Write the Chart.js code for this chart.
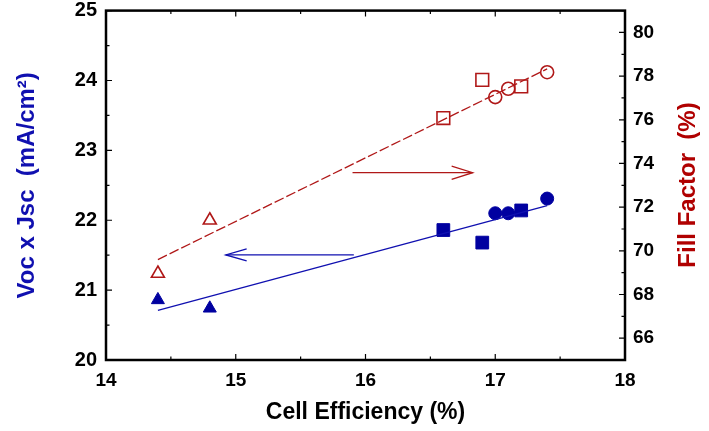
<!DOCTYPE html>
<html>
<head>
<meta charset="utf-8">
<script src="https://cdn.jsdelivr.net/npm/chart.js@4/dist/chart.umd.min.js"></script>
<style>
html, body { margin: 0; padding: 0; background: #fff; }
#wrap { width: 709px; height: 431px; }
</style>
</head>
<body>
<div id="wrap"><canvas id="chart"></canvas></div>
<script>
// cell efficiency (%) for each marker group
const triEff = [14.4, 14.8];
const sqEff = [16.6, 16.9, 17.2];
const cirEff = [17.0, 17.1, 17.4];
// Voc x Jsc (mA/cm2), left axis
const triVJ = [20.86, 20.74];
const sqVJ = [21.86, 21.68, 22.14];
const cirVJ = [22.10, 22.10, 22.31];
// fill factor (%), right axis
const triFF = [68.96, 71.4];
const sqFF = [76.08, 77.83, 77.53];
const cirFF = [77.04, 77.42, 78.18];
// fitted lines
const fitEff = [14.4, 17.4];
const fitVJ = [20.71, 22.21];
const fitFF = [69.6, 78.33];
// arrows (efficiency, Voc x Jsc units)
const ffArrowEff = [15.9, 16.826];
const ffArrowVJ = [22.68, 22.68];
const ffHeadEff = [16.664, 16.826, 16.664];
const ffHeadVJ = [22.776, 22.68, 22.584];
const vjArrowEff = [15.91, 14.923];
const vjArrowVJ = [21.504, 21.504];
const vjHeadEff = [15.084, 14.923, 15.084];
const vjHeadVJ = [21.59, 21.504, 21.418];

const BLUE = '#0000a0';
const RED = '#b01818';
const FONT = '"Liberation Sans", Arial, sans-serif';

function pts(xs, ys) {
    return xs.map((x, i) => ({ x: x, y: ys[i] }));
}

function marker(data, axis, shape, radius, color, filled) {
    return {
        type: 'scatter',
        data: data,
        yAxisID: axis,
        pointStyle: shape,
        pointRadius: radius,
        pointHoverRadius: radius,
        pointBorderWidth: filled ? 1 : 1.6,
        borderColor: color,
        backgroundColor: filled ? color : 'rgba(0,0,0,0)',
        showLine: false
    };
}

function line(data, axis, color, width, dash) {
    return {
        type: 'line',
        data: data,
        yAxisID: axis,
        borderColor: color,
        borderWidth: width,
        borderDash: dash || [],
        pointRadius: 0,
        fill: false,
        tension: 0
    };
}

const frame = {
    id: 'frame',
    afterDatasetsDraw(chart) {
        const ctx = chart.ctx;
        const a = chart.chartArea;
        const x = chart.scales.x, y = chart.scales.y, y2 = chart.scales.y2;
        ctx.save();
        ctx.strokeStyle = '#000';
        ctx.lineWidth = 1.2;
        ctx.beginPath();
        x.ticks.forEach(t => {
            const px = x.getPixelForValue(t.value);
            const len = Number.isInteger(t.value) ? 6 : 3.5;
            ctx.moveTo(px, a.bottom); ctx.lineTo(px, a.bottom - len);
            ctx.moveTo(px, a.top); ctx.lineTo(px, a.top + len);
        });
        y.ticks.forEach(t => {
            const py = y.getPixelForValue(t.value);
            const len = Number.isInteger(t.value) ? 6 : 3.5;
            ctx.moveTo(a.left, py); ctx.lineTo(a.left + len, py);
        });
        y2.ticks.forEach(t => {
            const py = y2.getPixelForValue(t.value);
            const len = t.value % 2 === 0 ? 6 : 3.5;
            ctx.moveTo(a.right, py); ctx.lineTo(a.right - len, py);
        });
        ctx.stroke();
        ctx.lineWidth = 2.5;
        ctx.strokeRect(a.left, a.top, a.right - a.left, a.bottom - a.top);

        // right axis title, reading upward
        ctx.translate(688, 185);
        ctx.rotate(-Math.PI / 2);
        ctx.fillStyle = '#b00000';
        ctx.font = 'bold 24px ' + FONT;
        ctx.textAlign = 'center';
        ctx.textBaseline = 'middle';
        ctx.fillText('Fill Factor  (%)', 0, 0);
        ctx.restore();
    }
};

function noPad(scale) {
    scale.paddingTop = 0;
    scale.paddingBottom = 0;
}

const chartCtx = document.getElementById('chart').getContext('2d');

const chart = new Chart(chartCtx, {
    data: {
        datasets: [
            line(pts(fitEff, fitFF), 'y2', RED, 1.3, [10, 3]),
            line(pts(fitEff, fitVJ), 'y', '#1010b0', 1.3),
            line(pts(ffArrowEff, ffArrowVJ), 'y', RED, 1.3),
            line(pts(ffHeadEff, ffHeadVJ), 'y', RED, 1.3),
            line(pts(vjArrowEff, vjArrowVJ), 'y', '#1010b0', 1.3),
            line(pts(vjHeadEff, vjHeadVJ), 'y', '#1010b0', 1.3),
            marker(pts(triEff, triFF), 'y2', 'triangle', 7.5, RED, false),
            marker(pts(sqEff, sqFF), 'y2', 'rect', 9, RED, false),
            marker(pts(cirEff, cirFF), 'y2', 'circle', 6.5, RED, false),
            marker(pts(triEff, triVJ), 'y', 'triangle', 7.5, BLUE, true),
            marker(pts(sqEff, sqVJ), 'y', 'rect', 9, BLUE, true),
            marker(pts(cirEff, cirVJ), 'y', 'circle', 6.5, BLUE, true)
        ]
    },
    plugins: [frame],
    options: {
        responsive: true,
        maintainAspectRatio: false,
        animation: false,
        layout: { padding: { top: 10, left: 0, right: 0, bottom: 0 } },
        plugins: {
            legend: { display: false },
            tooltip: { enabled: false }
        },
        scales: {
            x: {
                type: 'linear',
                position: 'bottom',
                min: 14,
                max: 18,
                afterFit: s => { s.height = 71; },
                grid: { display: false, drawTicks: false },
                border: { display: false },
                ticks: {
                    stepSize: 0.5,
                    autoSkip: false,
                    maxRotation: 0,
                    padding: 9,
                    color: '#000',
                    font: { family: FONT, size: 19, weight: 'bold' },
                    callback: v => Number.isInteger(v) ? String(v) : ''
                },
                title: {
                    display: true,
                    text: 'Cell Efficiency (%)',
                    color: '#000',
                    padding: { top: 0, bottom: 5 },
                    font: { family: FONT, size: 23, weight: 'bold' }
                }
            },
            y: {
                type: 'linear',
                position: 'left',
                min: 20,
                max: 25,
                afterFit: s => { s.width = 106; noPad(s); },
                grid: { display: false, drawTicks: false },
                border: { display: false },
                ticks: {
                    stepSize: 0.5,
                    autoSkip: false,
                    padding: 9,
                    color: '#000',
                    font: { family: FONT, size: 20, weight: 'bold' },
                    callback: v => Number.isInteger(v) ? String(v) : ''
                },
                title: {
                    display: true,
                    text: 'Voc x Jsc  (mA/cm²)',
                    color: '#1010b0',
                    padding: { top: 13, bottom: 0 },
                    font: { family: FONT, size: 24, weight: 'bold' }
                }
            },
            y2: {
                type: 'linear',
                position: 'right',
                min: 65,
                max: 81,
                afterFit: s => { s.width = 84; noPad(s); },
                grid: { display: false, drawTicks: false },
                border: { display: false },
                ticks: {
                    stepSize: 1,
                    autoSkip: false,
                    padding: 8,
                    color: '#000',
                    font: { family: FONT, size: 19, weight: 'bold' },
                    callback: v => (v % 2 === 0) ? String(v) : ''
                }
            }
        }
    }
});
</script>
</body>
</html>
